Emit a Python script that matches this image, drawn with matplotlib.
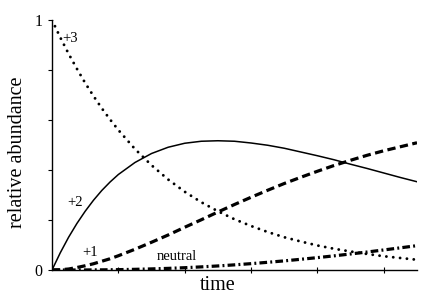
import numpy as np
from matplotlib import pyplot as plt

plt.rcParams["font.family"] = ["Liberation Serif", "DejaVu Serif"]

# values (finer steps near the start, where curves bend)
time = [0.0, 0.125, 0.25, 0.375, 0.5, 0.625, 0.75, 0.875, 1.0, 1.25, 1.5,
        1.75, 2.0, 2.25, 2.5, 2.75, 3.0, 3.25, 3.5, 3.75, 4.0, 4.25, 4.5,
        4.75, 5.0, 5.25, 5.5]
plus3 = [1.0, 0.930, 0.865, 0.805, 0.748, 0.696, 0.647, 0.602, 0.560, 0.484,
         0.419, 0.362, 0.313, 0.271, 0.235, 0.203, 0.176, 0.152, 0.131,
         0.114, 0.098, 0.085, 0.074, 0.064, 0.055, 0.048, 0.041]
plus2 = [0.0, 0.069, 0.131, 0.186, 0.235, 0.279, 0.318, 0.352, 0.382, 0.430,
         0.466, 0.491, 0.507, 0.515, 0.517, 0.515, 0.508, 0.499, 0.487,
         0.472, 0.457, 0.441, 0.423, 0.406, 0.388, 0.370, 0.353]
plus1 = [0.0, 0.001, 0.004, 0.010, 0.017, 0.025, 0.035, 0.045, 0.057, 0.083,
         0.111, 0.140, 0.171, 0.201, 0.232, 0.262, 0.291, 0.319, 0.346,
         0.371, 0.395, 0.418, 0.439, 0.459, 0.477, 0.493, 0.509]
neutral = [0.0, 0.0, 0.0, 0.0001, 0.0002, 0.0004, 0.0006, 0.001, 0.0014,
           0.0027, 0.0044, 0.0065, 0.0092, 0.0125, 0.0162, 0.0206, 0.0254,
           0.0308, 0.0365, 0.0429, 0.0495, 0.0566, 0.0642, 0.0720, 0.0802,
           0.0887, 0.0974]

fig = plt.figure(figsize=(4.31, 2.98), dpi=100)
ax = fig.add_axes([52 / 431, 1 - 270 / 298, 365 / 431, 250 / 298])

ax.plot(time, plus3, color="black", linewidth=2.1,
        linestyle=(0, (0.01, 2.35)), dash_capstyle="round")
ax.plot(time, plus2, color="black", linewidth=1.1)
ax.plot(time, plus1, color="black", linewidth=2.3,
        linestyle=(0, (2.6, 1.4)))
ax.plot(time, neutral, color="black", linewidth=2.3,
        linestyle=(0, (2.4, 1.0, 0.6, 1.0)))

# curve labels
ax.text(0.28, 0.928, "+3", fontsize=10.5, ha="center", va="center")
ax.text(0.354, 0.272, "+2", fontsize=10.5, ha="center", va="center")
ax.text(0.58, 0.072, "+1", fontsize=10.5, ha="center", va="center")
ax.text(1.88, 0.052, "neutral", fontsize=10.5, ha="center", va="center")

ax.set_xlim(0, 5.5)
ax.set_ylim(0, 1)
ax.set_xticks([1, 2, 3, 4, 5])
ax.set_xticklabels([])
ax.set_yticks([0, 0.2, 0.4, 0.6, 0.8, 1.0])
ax.set_yticklabels(["0", "", "", "", "", "1"])
ax.tick_params(axis="x", direction="inout", length=5, width=0.8)
ax.tick_params(axis="y", direction="out", length=3, width=0.8,
               labelsize=11.5, pad=4)

for side in ["top", "right"]:
    ax.spines[side].set_visible(False)
ax.spines["left"].set_linewidth(1.0)
ax.spines["bottom"].set_linewidth(1.0)

ax.set_xlabel("time", fontsize=14.5)
ax.set_ylabel("relative abundance", fontsize=14.5)
ax.xaxis.set_label_coords(0.455, -0.025)
ax.yaxis.set_label_coords(-0.068, 0.472)

fig.savefig("out.png", dpi=100)
